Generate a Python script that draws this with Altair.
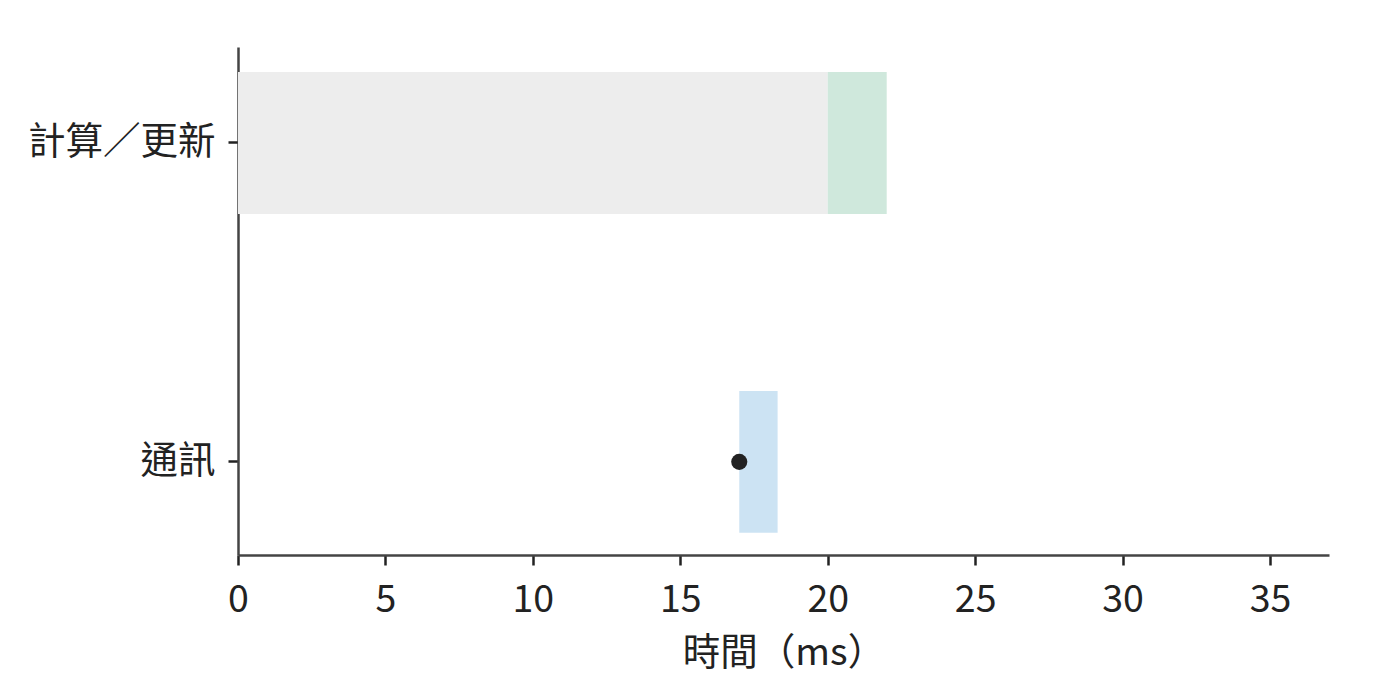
import altair as alt
import pandas as pd

rows = ["計算／更新", "計算／更新", "通訊"]
starts = [0, 20, 17]
ends = [20, 22, 18.3]
kinds = ["compute", "update", "comm"]
colors = ["#ededed", "#cfe8dc", "#cce3f3"]

dot_rows = ["通訊"]
dot_x = [17]

bars = pd.DataFrame({"row": rows, "start": starts, "end": ends, "kind": kinds, "color": colors})
dots = pd.DataFrame({"row": dot_rows, "x": dot_x})

order = ["計算／更新", "通訊"]
FONT = "Noto Sans CJK TC"

yenc = alt.Y("row:N", sort=order, title=None,
             scale=alt.Scale(paddingInner=0.555, paddingOuter=0.074, align=0.53))

bar = alt.Chart(bars).mark_bar(opacity=1).encode(
    x=alt.X("start:Q", title="時間（ms）",
            scale=alt.Scale(domain=[0, 37], nice=False),
            axis=alt.Axis(values=[0, 5, 10, 15, 20, 25, 30, 35], format="d")),
    x2="end:Q",
    y=yenc,
    color=alt.Color("color:N", scale=None),
)

pt = alt.Chart(dots).mark_circle(size=260, color="#222222", opacity=1).encode(
    x="x:Q",
    y=alt.Y("row:N", sort=order),
)

chart = alt.layer(bar, pt).properties(
    width=1091, height=508,
    autosize=alt.AutoSizeParams(type="none"),
    padding={"left": 230, "top": 39, "right": 63, "bottom": 140},
).configure_view(stroke=None).configure_axis(
    labelFont=FONT, titleFont=FONT, labelFontSize=37.5, titleFontSize=37.5,
    labelColor="#222222", titleColor="#222222", titleFontWeight="normal",
    domainColor="#444444", domainWidth=2.5, tickColor="#222222", tickWidth=2.5,
    tickSize=10, grid=False, labelLimit=500,
).configure_axisX(titlePadding=16, labelFlush=False, labelPadding=16).configure_axisY(labelPadding=13)

chart.save("out.html", embed_options={"renderer": "svg", "actions": False})
